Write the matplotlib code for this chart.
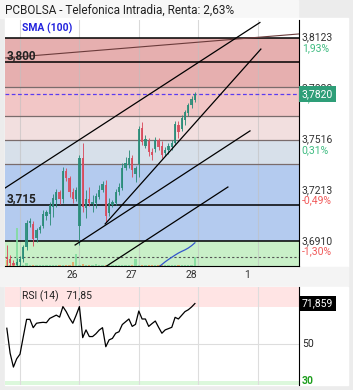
import matplotlib
matplotlib.use("Agg")
import matplotlib.pyplot as plt
import matplotlib.transforms as mtransforms
from matplotlib.patches import Rectangle

plt.rcParams['font.family'] = ['Roboto', 'DejaVu Sans']

# 30 min bars, grid line every 18 bars (one session)
bars = list(range(-4, 54))
opens = [3.6818, 3.6806, 3.6782, 3.6770, 3.6788, 3.6806, 3.6877, 3.7020, 3.7014, 3.6931,
         3.6979, 3.7002, 3.7062, 3.7074, 3.7115, 3.7157, 3.7205, 3.7163, 3.7329, 3.7288,
         3.7205, 3.7163, 3.7002, 3.7407, 3.7109, 3.7163, 3.7133, 3.7139, 3.7175, 3.7217,
         3.7246, 3.7080, 3.7127, 3.7139, 3.7205, 3.7228, 3.7347, 3.7365, 3.7407, 3.7312,
         3.7371, 3.7585, 3.7478, 3.7508, 3.7443, 3.7460, 3.7514, 3.7478, 3.7437, 3.7455,
         3.7472, 3.7496, 3.7603, 3.7579, 3.7633, 3.7675, 3.7722, 3.7752]
highs = [3.6889, 3.6830, 3.6800, 3.6812, 3.6824, 3.6889, 3.7038, 3.7050, 3.7032, 3.6990,
         3.7008, 3.7098, 3.7098, 3.7145, 3.7193, 3.7222, 3.7217, 3.7353, 3.7347, 3.7300,
         3.7228, 3.7234, 3.7425, 3.7496, 3.7217, 3.7234, 3.7187, 3.7199, 3.7246, 3.7270,
         3.7276, 3.7169, 3.7157, 3.7222, 3.7258, 3.7377, 3.7413, 3.7455, 3.7425, 3.7359,
         3.7597, 3.7621, 3.7544, 3.7526, 3.7466, 3.7532, 3.7526, 3.7508, 3.7472, 3.7496,
         3.7514, 3.7627, 3.7627, 3.7663, 3.7692, 3.7734, 3.7776, 3.7800]
lows = [3.6758, 3.6764, 3.6752, 3.6758, 3.6764, 3.6788, 3.6859, 3.6996, 3.6883, 3.6907,
        3.6961, 3.6990, 3.7038, 3.7008, 3.7056, 3.7115, 3.7133, 3.7139, 3.7270, 3.7175,
        3.7139, 3.7151, 3.6889, 3.7086, 3.7050, 3.7121, 3.7086, 3.7109, 3.7163, 3.7205,
        3.7026, 3.7062, 3.7115, 3.7127, 3.7187, 3.7217, 3.7335, 3.7347, 3.7294, 3.7264,
        3.7294, 3.7484, 3.7466, 3.7419, 3.7395, 3.7443, 3.7455, 3.7407, 3.7419, 3.7431,
        3.7455, 3.7484, 3.7526, 3.7568, 3.7603, 3.7657, 3.7704, 3.7740]
closes = [3.6806, 3.6782, 3.6770, 3.6788, 3.6806, 3.6877, 3.7020, 3.7032, 3.6925, 3.6979,
          3.6996, 3.7074, 3.7086, 3.7127, 3.7169, 3.7205, 3.7163, 3.7329, 3.7288, 3.7205,
          3.7163, 3.7217, 3.7407, 3.7115, 3.7163, 3.7139, 3.7145, 3.7181, 3.7217, 3.7252,
          3.7062, 3.7139, 3.7145, 3.7205, 3.7234, 3.7347, 3.7377, 3.7407, 3.7335, 3.7347,
          3.7579, 3.7502, 3.7520, 3.7443, 3.7425, 3.7514, 3.7472, 3.7425, 3.7455, 3.7478,
          3.7496, 3.7609, 3.7562, 3.7645, 3.7681, 3.7722, 3.7758, 3.7788]
volumes = [6, 1, 1, 38, 1, 1, 3, 1, 1, 1, 1, 1, 1, 1, 1, 1, 1, 1, 1, 1,
           4, 12, 1, 2, 1, 1, 1, 2, 1, 1, 1, 1, 1, 1, 1, 1, 1, 1, 1, 7,
           1, 1, 1, 1, 1, 1, 1, 1, 1, 1, 1, 1, 1, 1, 1, 1, 1, 9]
rsi = [58.5, 45, 37.5, 42, 44.5, 54, 63.3, 63.3, 58.8, 61.2, 61.5, 61.7, 61.5, 63.8, 64.7,
       65.6, 64.5, 70.2, 67.5, 64, 61.2, 65.5, 70.2, 53.4, 57.6, 54, 54, 55.5, 57.5, 58.8,
       48.5, 52.2, 53, 55.8, 56.6, 60.5, 62, 63.5, 59.5, 60.6, 67.8, 63.5, 63.5, 59.5, 61,
       62.4, 59, 55.8, 57.6, 58.3, 59, 64.4, 63.5, 65.5, 67.5, 68.5, 70, 71.85]
sma_bars = list(range(42, 54))
sma = [3.6758, 3.6773, 3.6789, 3.6803, 3.6816, 3.6829, 3.6841, 3.6851, 3.6860, 3.6871,
       3.6885, 3.6902]

# fibonacci zones (top -> bottom) and their fills
fib_levels = [3.8123, 3.7830, 3.7657, 3.7516, 3.7371, 3.6910]
zone_colors = ['#e6afaf', '#f2c6c6', '#f2dfdf', '#d7e0ea', '#b4cbef', '#c9f0c8']

# horizontal lines drawn by hand
hlines = [3.7978, 3.7127]
hlabels = ['3,800', '3,715']

# trendlines (bar, price) -> (bar, price)
trend_x0 = [-4.55, 25.8, 16.7, 25.8]
trend_y0 = [3.7228, 3.7014, 3.6889, 3.6758]
trend_x1 = [72.7, 73.0, 69.7, 63.0]
trend_y1 = [3.8213, 3.8055, 3.7568, 3.7234]
thin_x = [-4.55, 84.55]
thin_y = [3.8002, 3.8145]

last_price = 3.7788
last_label = '3,7820'
dashed_level = 3.6818

tick_vals = [3.8123, 3.7820, 3.7516, 3.7213, 3.6910]
tick_txt = ['3,8123', '3,7820', '3,7516', '3,7213', '3,6910']
pct_txt = ['1,93%', '1,12%', '0,31%', '-0,49%', '-1,30%']

day_pos = [15.76, 33.64, 51.8, 68.8]
day_labels = ['26', '27', '28', '1']
grid_pos = [0, 18, 36, 54, 72]

W, H = 353, 390
fig = plt.figure(figsize=(W / 100, H / 100), dpi=100, facecolor='#ececec')


def frect(x, y, w, h, color):
    # rectangle in pixel coords (top-left origin)
    fig.patches.append(Rectangle((x / W, 1 - (y + h) / H), w / W, h / H,
                                 transform=fig.transFigure, color=color, zorder=-5))


frect(0, 0, 298, 18, '#f7f7f7')
frect(5, 18, 343, 249, 'white')
frect(0, 267, 348, 19, '#f4f4f4')
frect(5, 287, 343, 98, 'white')

ax = fig.add_axes([5 / W, 1 - 266 / H, 294 / W, 246 / H])
ax.set_facecolor('none')
ax.set_xlim(-4.55, 84.55)
ax.set_ylim(3.6764, 3.8228)

# zones
tops = [3.8228] + fib_levels
bots = fib_levels + [3.6764]
for i, c in enumerate(zone_colors):
    ax.axhspan(bots[i + 1], tops[i + 1], color=c, lw=0, zorder=0)
for i, lv in enumerate(fib_levels):
    if i == 0 or i == len(fib_levels) - 1:
        ax.axhline(lv, color='black', lw=1.1, zorder=1)
    else:
        ax.axhline(lv, color='#7a6c6c', lw=0.9, zorder=1)

for g in grid_pos:
    ax.axvline(g, color='#c0c0c0', lw=0.8, alpha=0.6, zorder=0.5)

for lv, lb in zip(hlines, hlabels):
    ax.axhline(lv, color='black', lw=1.1, zorder=1)
    ax.annotate(lb, xy=(0, lv), xycoords=mtransforms.blended_transform_factory(ax.transAxes, ax.transData),
                xytext=(1.5, 2), textcoords='offset points', va='baseline', ha='left',
                fontsize=8.5, fontweight='bold', color='#222222', zorder=6)

ax.plot(thin_x, thin_y, color='#6b3b3b', lw=0.8, zorder=2)
for x0, y0, x1, y1 in zip(trend_x0, trend_y0, trend_x1, trend_y1):
    ax.plot([x0, x1], [y0, y1], color='black', lw=0.9, zorder=4)

ax.axhline(dashed_level, color='#555555', lw=0.8, ls=(0, (2, 2)), zorder=1)
ax.axhline(last_price, color='#5b3cf0', lw=0.9, ls=(0, (3, 2)), zorder=1)

# volume bars at the bottom
vol_tr = mtransforms.blended_transform_factory(ax.transData, ax.transAxes)
for b, o, c, v in zip(bars, opens, closes, volumes):
    col = '#7fdc9c' if c >= o else '#e8a060'
    ax.add_patch(Rectangle((b - 0.35, 0), 0.7, v / 246, transform=vol_tr,
                           color=col, alpha=0.85, lw=0, zorder=1.5))

ax.plot(sma_bars, sma, color='#3355cc', lw=0.9, zorder=2)

# candles
for b, o, h, l, c in zip(bars, opens, highs, lows, closes):
    col = '#2a8c78' if c >= o else '#d94a5c'
    ax.vlines(b, l, h, color=col, lw=0.7, alpha=0.9, zorder=3)
    ax.bar(b, abs(c - o) if abs(c - o) > 0 else 0.0002, bottom=min(o, c), width=0.7,
           color=col, alpha=0.9, lw=0, zorder=3)

for s in ['top', 'left']:
    ax.spines[s].set_visible(False)
ax.spines['right'].set_color('black')
ax.spines['bottom'].set_color('black')
ax.set_yticks([])
ax.set_xticks(day_pos)
ax.set_xticklabels(day_labels)
ax.tick_params(axis='x', length=0, pad=3, labelsize=7.5, labelcolor='#333333')

ytr = mtransforms.blended_transform_factory(ax.transAxes, ax.transData)
for v, t, p in zip(tick_vals, tick_txt, pct_txt):
    ax.annotate(t, xy=(1, v), xycoords=ytr, xytext=(2, 0), textcoords='offset points',
                va='center', ha='left', fontsize=7.5, color='#333333', annotation_clip=False)
    ax.annotate(p, xy=(1, v), xycoords=ytr, xytext=(2, -7.3), textcoords='offset points',
                va='center', ha='left', fontsize=7.5,
                color='#f05a5a' if p.startswith('-') else '#3dbb80', annotation_clip=False)
ax.annotate(last_label, xy=(1, last_price), xycoords=ytr, xytext=(2, 0), textcoords='offset points',
            va='center', ha='left', fontsize=7.5, color='white', annotation_clip=False, zorder=10,
            bbox=dict(boxstyle='square,pad=0.25', fc='#2e9e78', ec='none'))

fig.text(5 / W, 1 - 10 / H, 'PCBOLSA - Telefonica Intradia, Renta: 2,63%', fontsize=8.5,
         va='center', ha='left', color='#222222')
fig.text(22 / W, 1 - 28 / H, 'SMA (100)', fontsize=7.5, fontweight='bold',
         va='center', ha='left', color='#2323dd')

# RSI panel
ax2 = fig.add_axes([5 / W, 1 - 385 / H, 294 / W, 98 / H])
ax2.set_facecolor('none')
ax2.set_xlim(-4.55, 84.55)
ax2.set_ylim(27.8, 80.8)
ax2.axhspan(70, 80.8, color='#ffe4e4', lw=0, zorder=0)
ax2.axhspan(27.8, 30, color='#dcf8dc', lw=0, zorder=0)
ax2.axhline(50, color='#dddddd', lw=0.8, zorder=0.5)
for g in grid_pos:
    ax2.axvline(g, color='#dddddd', lw=0.8, zorder=0.5)
ax2.plot(bars, rsi, color='black', lw=0.9, zorder=3)
for s in ['top', 'left', 'bottom']:
    ax2.spines[s].set_visible(False)
ax2.spines['right'].set_color('black')
ax2.set_xticks([])
ax2.set_yticks([])
rtr = mtransforms.blended_transform_factory(ax2.transAxes, ax2.transData)
ax2.annotate('50', xy=(1, 50), xycoords=rtr, xytext=(2, 0), textcoords='offset points',
             va='center', ha='left', fontsize=7.5, color='#222222', annotation_clip=False)
ax2.annotate('30', xy=(1, 30), xycoords=rtr, xytext=(2, 0), textcoords='offset points',
             va='center', ha='left', fontsize=7.5, color='#1e9e1e', fontweight='bold',
             annotation_clip=False)
ax2.annotate('71,859', xy=(1, rsi[-1]), xycoords=rtr, xytext=(2, 0), textcoords='offset points',
             va='center', ha='left', fontsize=7.5, color='white', annotation_clip=False,
             bbox=dict(boxstyle='square,pad=0.25', fc='black', ec='none'))
fig.text(22 / W, 1 - 296 / H, 'RSI (14)   71,85', fontsize=7.5, va='center', ha='left',
         color='#222222')

fig.savefig('out.png', dpi=100, facecolor=fig.get_facecolor())
